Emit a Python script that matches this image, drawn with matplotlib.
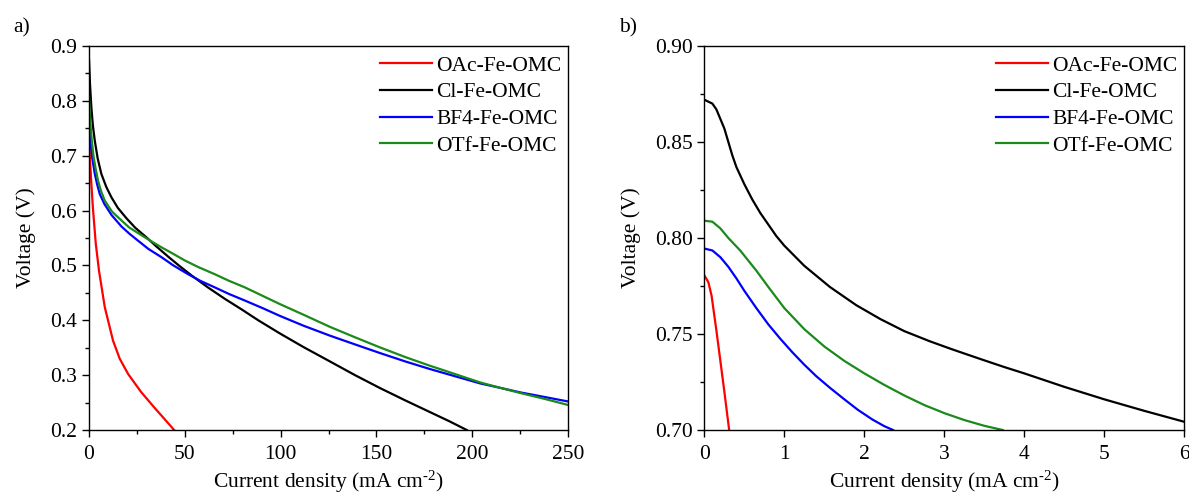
import matplotlib
matplotlib.use("Agg")
import matplotlib.pyplot as plt
from matplotlib.ticker import MultipleLocator, FormatStrFormatter

plt.rcParams['font.family'] = ['Liberation Serif', 'DejaVu Serif']
plt.rcParams['mathtext.fontset'] = 'custom'
plt.rcParams['mathtext.rm'] = 'Liberation Serif'
plt.rcParams['mathtext.it'] = 'Liberation Serif:italic'

labels = ["OAc-Fe-OMC", "Cl-Fe-OMC", "BF4-Fe-OMC", "OTf-Fe-OMC"]
colors = ["#ff0000", "#000000", "#0000ff", "#1a8a1a"]

# panel a) full polarization curves
a_oac_x = [0, 0.4, 1, 2, 3.5, 5.2, 8.2, 12.5, 16, 20.4, 27, 34.3, 39, 44.4]
a_oac_y = [0.746, 0.70, 0.66, 0.605, 0.54, 0.49, 0.424, 0.363, 0.33, 0.302, 0.27, 0.24, 0.2215, 0.2]

a_cl_x = [0, 0.5, 1.2, 2, 3, 4.5, 6.4, 9, 11.7, 15, 19.5, 24, 30, 35, 41.3, 47, 53.4, 62, 70.9, 80,
          88.3, 99.6, 112, 125.7, 138.8, 151.8, 165, 178, 188, 197.1]
a_cl_y = [0.874, 0.83, 0.788, 0.755, 0.727, 0.695, 0.667, 0.643, 0.624, 0.605, 0.586, 0.569, 0.551,
          0.535, 0.516, 0.4995, 0.482, 0.46, 0.439, 0.419, 0.40, 0.376, 0.351, 0.325, 0.30, 0.2765,
          0.254, 0.2325, 0.216, 0.2]

a_bf4_x = [0, 0.7, 1.7, 3, 4.2, 5.6, 8, 11.7, 16.9, 21, 25.6, 31, 37.8, 44, 51.7, 58, 65.6, 73, 81.3,
           91, 99.6, 112, 125.7, 138.8, 151.8, 165, 178, 191, 204, 215, 225, 238, 250]
a_bf4_y = [0.77, 0.727, 0.695, 0.667, 0.648, 0.63, 0.612, 0.592, 0.571, 0.558, 0.545, 0.53, 0.515, 0.5,
           0.484, 0.472, 0.46, 0.448, 0.436, 0.4215, 0.408, 0.39, 0.372, 0.356, 0.3403, 0.325, 0.311,
           0.298, 0.285, 0.2765, 0.2686, 0.26, 0.252]

a_otf_x = [0, 0.7, 1.5, 2.4, 3.5, 4.7, 6.3, 8.2, 12, 16.9, 21, 26.5, 32, 37.8, 44, 50, 57, 65.6, 73,
           81.3, 90, 99.6, 112, 125.7, 138.8, 151.8, 165, 178, 191, 204, 215, 225, 238, 250]
a_otf_y = [0.806, 0.758, 0.725, 0.697, 0.675, 0.654, 0.635, 0.618, 0.598, 0.582, 0.569, 0.557, 0.545,
           0.533, 0.521, 0.509, 0.497, 0.484, 0.472, 0.46, 0.4455, 0.4295, 0.41, 0.388, 0.369, 0.3506,
           0.333, 0.317, 0.302, 0.2868, 0.2765, 0.2675, 0.2565, 0.2456]

# panel b) low current density region
b_oac_x = [0, 0.05, 0.09, 0.15, 0.2, 0.25, 0.31]
b_oac_y = [0.7805, 0.777, 0.77, 0.752, 0.736, 0.72, 0.70]

b_cl_x = [0, 0.1, 0.15, 0.2, 0.25, 0.3, 0.35, 0.4, 0.5, 0.6, 0.7, 0.8, 0.9, 1.0, 1.25, 1.57, 1.9,
          2.2, 2.5, 2.82, 3.1, 3.45, 3.75, 4.0, 4.5, 5.0, 5.5, 6.0]
b_cl_y = [0.872, 0.870, 0.867, 0.862, 0.857, 0.85, 0.843, 0.837, 0.828, 0.82, 0.813, 0.807, 0.801,
          0.796, 0.7855, 0.7745, 0.765, 0.7578, 0.7515, 0.7462, 0.742, 0.737, 0.7328, 0.7295, 0.7225,
          0.716, 0.710, 0.7043]

b_bf4_x = [0, 0.1, 0.2, 0.3, 0.4, 0.5, 0.65, 0.8, 0.95, 1.1, 1.25, 1.4, 1.57, 1.75, 1.92, 2.1, 2.25,
           2.36]
b_bf4_y = [0.7945, 0.7935, 0.79, 0.785, 0.779, 0.7725, 0.7635, 0.755, 0.7475, 0.7405, 0.734, 0.728,
           0.722, 0.716, 0.7105, 0.7055, 0.702, 0.70]

b_otf_x = [0, 0.1, 0.2, 0.3, 0.45, 0.65, 0.8, 0.9, 1.0, 1.25, 1.5, 1.75, 2.0, 2.25, 2.5, 2.75, 3.0,
           3.25, 3.5, 3.73]
b_otf_y = [0.809, 0.8085, 0.805, 0.80, 0.7934, 0.783, 0.7745, 0.769, 0.7635, 0.7525, 0.7435, 0.736,
           0.7295, 0.7235, 0.718, 0.713, 0.7088, 0.7052, 0.7022, 0.70]

fs = 15.5

fig = plt.figure(figsize=(11.89, 4.95), dpi=100)
ax1 = fig.add_axes([0.0749, 0.1313, 0.4029, 0.7758])
ax2 = fig.add_axes([0.5924, 0.1313, 0.4035, 0.7758])

panel_a = [(a_oac_x, a_oac_y), (a_cl_x, a_cl_y), (a_bf4_x, a_bf4_y), (a_otf_x, a_otf_y)]
panel_b = [(b_oac_x, b_oac_y), (b_cl_x, b_cl_y), (b_bf4_x, b_bf4_y), (b_otf_x, b_otf_y)]

for (x, y), lab, c in zip(panel_a, labels, colors):
    ax1.plot(x, y, color=c, lw=1.6, label=lab, solid_joinstyle='round')
for (x, y), lab, c in zip(panel_b, labels, colors):
    ax2.plot(x, y, color=c, lw=1.6, label=lab, solid_joinstyle='round')

ax1.set_xlim(0, 250)
ax1.set_ylim(0.2, 0.9)
ax1.xaxis.set_major_locator(MultipleLocator(50))
ax1.xaxis.set_minor_locator(MultipleLocator(25))
ax1.yaxis.set_major_locator(MultipleLocator(0.1))
ax1.yaxis.set_minor_locator(MultipleLocator(0.05))
ax1.yaxis.set_major_formatter(FormatStrFormatter('%.1f'))

ax2.set_xlim(0, 6)
ax2.set_ylim(0.70, 0.90)
ax2.xaxis.set_major_locator(MultipleLocator(1))
ax2.yaxis.set_major_locator(MultipleLocator(0.05))
ax2.yaxis.set_minor_locator(MultipleLocator(0.025))
ax2.yaxis.set_major_formatter(FormatStrFormatter('%.2f'))

for ax in (ax1, ax2):
    for sp in ax.spines.values():
        sp.set_linewidth(1.0)
    ax.tick_params(which='major', direction='out', length=5, width=1.0, labelsize=fs,
                   top=False, right=False)
    ax.tick_params(axis='x', which='major', pad=6)
    ax.tick_params(which='minor', direction='out', length=3, width=1.0, top=False, right=False)
    ax.set_xlabel("Current density (mA cm$^{\\text{-2}}$)", fontsize=fs, labelpad=3)
    ax.set_ylabel("Voltage (V)", fontsize=fs, labelpad=10)
    ax.legend(loc='upper left', bbox_to_anchor=(0.608, 0.975), frameon=False, fontsize=fs,
              handlelength=2.4, handletextpad=0.2, labelspacing=0.31, borderpad=0,
              borderaxespad=0)

fig.text(0.011, 0.935, "a)", fontsize=fs)
fig.text(0.521, 0.935, "b)", fontsize=fs)

fig.savefig("out.png", dpi=100)
